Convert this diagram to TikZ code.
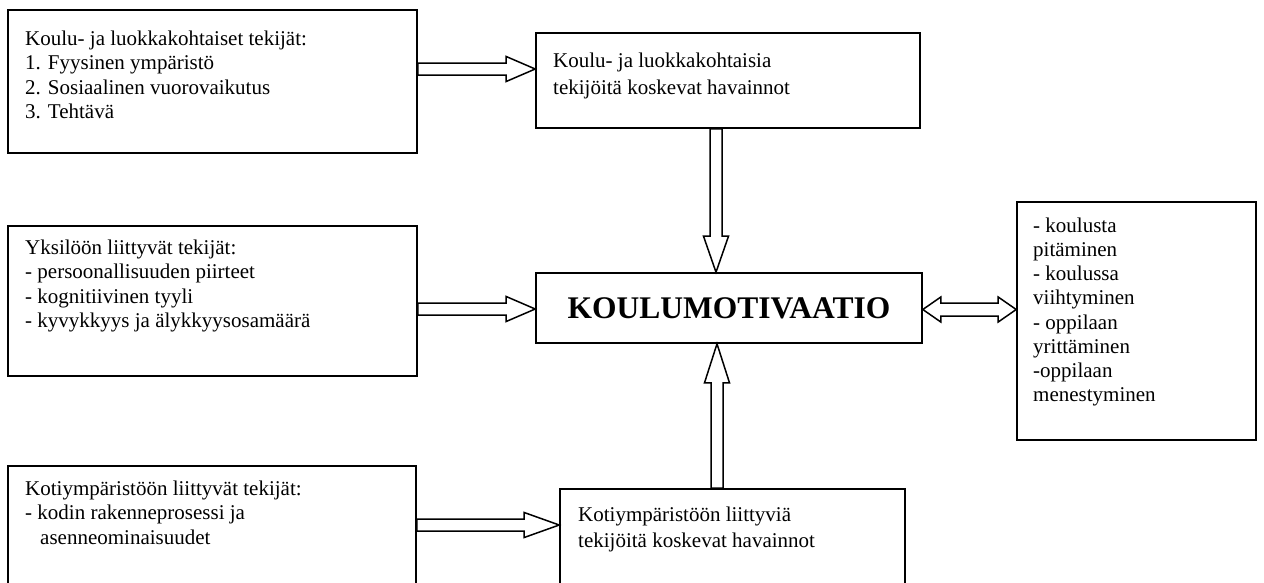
\documentclass[tikz,border=0pt]{standalone}
\usepackage{fontspec}
\setmainfont{Liberation Serif}
\usetikzlibrary{calc}

% hollow block arrow from #1 to #2 with head length #3
\newcommand\hollowarrow[3]{%
  \path ($(#2)!#3!(#1)$) coordinate (hb);
  \draw[arrowline] ($(#1)!6pt!90:(#2)$) -- ($(hb)!6pt!90:(#2)$)
    -- ($(hb)!12.5pt!90:(#2)$) -- (#2) -- ($(hb)!12.5pt!-90:(#2)$)
    -- ($(hb)!6pt!-90:(#2)$) -- ($(#1)!6pt!-90:(#2)$) -- cycle;}

% hollow double-headed block arrow between #1 and #2, head length #3
\newcommand\hollowdouble[3]{%
  \path ($(#1)!#3!(#2)$) coordinate (ha);
  \path ($(#2)!#3!(#1)$) coordinate (hb);
  \draw[arrowline] (#1) -- ($(ha)!12.5pt!90:(#2)$) -- ($(ha)!6.5pt!90:(#2)$)
    -- ($(hb)!6.5pt!90:(#2)$) -- ($(hb)!12.5pt!90:(#2)$) -- (#2)
    -- ($(hb)!12.5pt!-90:(#2)$) -- ($(hb)!6.5pt!-90:(#2)$)
    -- ($(ha)!6.5pt!-90:(#2)$) -- ($(ha)!12.5pt!-90:(#2)$) -- cycle;}

\tikzset{
  box/.style={draw, line width=1.6pt, inner sep=0pt, fill=white},
  arrowline/.style={draw, line width=1.5pt, fill=white, line join=miter},
  txt/.style={anchor=north west, inner sep=0pt, align=left,
    font=\fontsize{21}{24.5}\selectfont},
}

\begin{document}
\begin{tikzpicture}[x=1pt,y=-1pt]
\useasboundingbox (0,0) rectangle (1264,582);

% boxes
\node[box, minimum width=409pt, minimum height=143pt] (A) at (212.5,81.5) {};
\node[box, minimum width=384pt, minimum height=95pt]  (B) at (728,80.5) {};
\node[box, minimum width=409pt, minimum height=150pt] (C) at (212.5,301) {};
\node[box, minimum width=386pt, minimum height=70pt]  (K) at (729,308)
  {\fontsize{31.5}{36}\selectfont\bfseries KOULUMOTIVAATIO};
\node[box, minimum width=239pt, minimum height=238pt] (R) at (1136.5,321) {};
\node[box, minimum width=408pt, minimum height=130pt] (D) at (212,531) {};
\node[box, minimum width=345pt, minimum height=107pt] (E) at (732.5,542.5) {};

% texts
\node[txt] (tA) at (25,30.5) {Koulu- ja luokkakohtaiset tekijät:\\1. Fyysinen ympäristö\\2. Sosiaalinen vuorovaikutus\\3. Tehtävä};
\node[txt, font=\fontsize{21}{27}\selectfont] (tB) at (553,52.5) {Koulu- ja luokkakohtaisia\\tekijöitä koskevat havainnot};
\node[txt] (tC) at (25,239.5) {Yksilöön liittyvät tekijät:\\- persoonallisuuden piirteet\\- kognitiivinen tyyli\\- kyvykkyys ja älykkyysosamäärä};
\node[txt, font=\fontsize{21}{24.2}\selectfont] (tR) at (1033,217.5) {- koulusta\\pitäminen\\- koulussa\\viihtyminen\\- oppilaan\\yrittäminen\\-oppilaan\\menestyminen};
\node[txt] (tD) at (25,480.5) {Kotiympäristöön liittyvät tekijät:\\- kodin rakenneprosessi ja\\\hspace*{15pt}asenneominaisuudet};
\node[txt, font=\fontsize{21}{26.5}\selectfont] (tE) at (578,506.5) {Kotiympäristöön liittyviä\\tekijöitä koskevat havainnot};

% arrow end points on the box borders
\path (A.east) ++(0,-12.5) coordinate (a1);
\path (B.west) ++(0,-11.5) coordinate (b1);
\path (C.east) ++(0,8)     coordinate (c1);
\path (K.west) ++(0,1)     coordinate (k1);
\path (B.south) ++(-12,0)  coordinate (b2);
\path (K.north) ++(-13,0)  coordinate (k2);
\path (E.north) ++(-15.5,0) coordinate (e1);
\path (K.south) ++(-12,0)  coordinate (k3);
\path (K.east) ++(0,1.5)   coordinate (k4);
\path (R.west) ++(0,-11.5) coordinate (r1);
\path (D.east) ++(0,-6)    coordinate (d1);
\path (E.west) ++(0,-17.5) coordinate (e2);

% connectors
\hollowarrow{a1}{b1}{29pt}
\hollowarrow{c1}{k1}{29pt}
\hollowarrow{b2}{k2}{36pt}
\hollowarrow{e1}{k3}{39pt}
\hollowarrow{d1}{e2}{35pt}
\hollowdouble{k4}{r1}{18pt}
\end{tikzpicture}
\end{document}
